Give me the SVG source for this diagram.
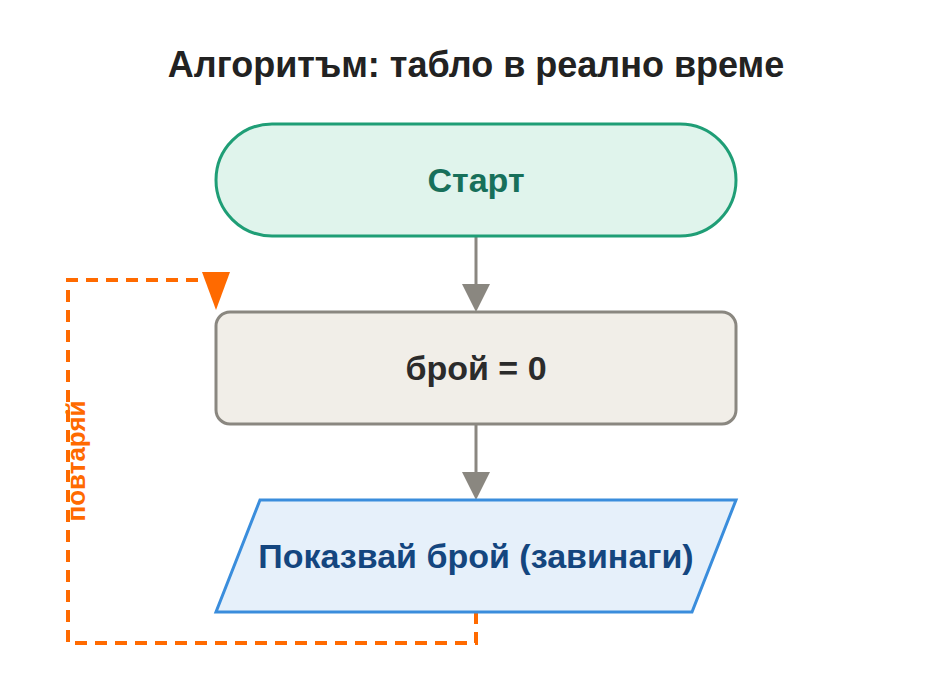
<svg xmlns="http://www.w3.org/2000/svg" width="952" height="676" viewBox="0 0 952 676">
<style>
text{font-family:"Liberation Sans",Arial,sans-serif;font-weight:bold;text-anchor:middle;dominant-baseline:central}
.c{stroke:#8a8780;stroke-width:3;fill:none}
</style>
<rect width="952" height="676" fill="#fff"/>
<text x="476" y="64" font-size="36" fill="#222">Алгоритъм: табло в реално време</text>
<g id="connectors">
<line class="c" x1="476" y1="236" x2="476" y2="290"/>
<path d="M462,284L490,284L476,312z" fill="#8a8780"/>
<line class="c" x1="476" y1="424" x2="476" y2="478"/>
<path d="M462,472L490,472L476,500z" fill="#8a8780"/>
<path d="M476,612V643H68V280H216V310" fill="none" stroke="#ff6a00" stroke-width="4" stroke-dasharray="12,8"/>
<path d="M202,272L230,272L216,310z" fill="#ff6a00"/>
<text x="76" y="461" font-size="26" fill="#ff6a00" transform="rotate(-90 76 461)">повтаряй</text>
</g>
<g id="start"><rect x="216" y="124" width="520" height="112" rx="56" fill="#e0f4ec" stroke="#1f9e76" stroke-width="3"/><text x="476" y="180" font-size="34" fill="#17705a">Старт</text></g>
<g id="init"><rect x="216" y="312" width="520" height="112" rx="14" fill="#f1eee8" stroke="#8a8780" stroke-width="3"/><text x="476" y="368" font-size="34" fill="#2b2b2b">брой = 0</text></g>
<g id="show"><path d="M260,500H736L692,612H216z" fill="#e6f0fa" stroke="#3a8ddc" stroke-width="3"/><text x="476" y="556" font-size="34" fill="#14467f">Показвай брой (завинаги)</text></g>
</svg>
